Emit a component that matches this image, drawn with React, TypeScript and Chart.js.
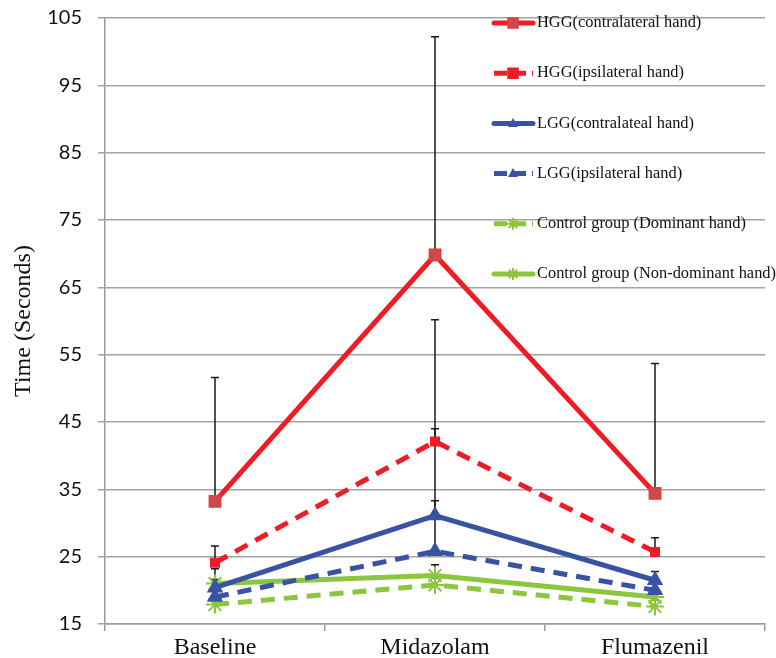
import React, { useEffect, useRef } from "react";
import { Chart, registerables } from "chart.js";

Chart.register(...registerables);

const categories = ["Baseline", "Midazolam", "Flumazenil"];
const yTicks = [15, 25, 35, 45, 55, 65, 75, 85, 95, 105];

const seriesLabels = [
  "HGG(contralateral hand)",
  "HGG(ipsilateral hand)",
  "LGG(contralateal hand)",
  "LGG(ipsilateral hand)",
  "Control group (Dominant hand)",
  "Control group (Non-dominant hand)",
];

const hggContra = [33.2, 69.8, 34.4];
const hggIpsi = [24.1, 42.1, 25.7];
const lggContra = [20.4, 31.1, 21.5];
const lggIpsi = [19.0, 25.8, 20.0];
const ctrlDom = [17.9, 20.8, 17.6];
const ctrlNonDom = [21.0, 22.2, 19.0];

const hggContraErr = [18.4, 32.4, 19.3];
const hggIpsiErr = [2.5, 18.1, 2.1];
const lggContraErr = [2.8, 12.9, 1.3];
const lggIpsiErr = [2.4, 7.5, 1.0];
const ctrlDomErr = [1.2, 1.0, 1.0];
const ctrlNonDomErr = [0.6, 1.6, 0.8];

const RED = "#ee1c25";
const BLUE = "#3953a4";
const GREEN = "#8cc63e";

const errorBarPlugin = {
  id: "errorBars",
  beforeDatasetsDraw(chart: any) {
    const { ctx } = chart;
    const yScale = chart.scales.y;
    ctx.save();
    ctx.strokeStyle = "#1a1a1a";
    ctx.lineWidth = 1.5;
    chart.data.datasets.forEach((ds: any, di: number) => {
      const meta = chart.getDatasetMeta(di);
      (ds.errors || []).forEach((e: number, i: number) => {
        const pt = meta.data[i];
        if (!pt) return;
        const x = pt.x;
        const y0 = yScale.getPixelForValue(ds.data[i]);
        const y1 = yScale.getPixelForValue(ds.data[i] + e);
        ctx.beginPath();
        ctx.moveTo(x, y0);
        ctx.lineTo(x, y1);
        ctx.moveTo(x - 4, y1);
        ctx.lineTo(x + 4, y1);
        ctx.stroke();
      });
    });
    ctx.restore();
  },
};

function drawMarker(ctx: CanvasRenderingContext2D, style: string, x: number, y: number, r: number, fill: string, stroke: string) {
  ctx.save();
  ctx.fillStyle = fill;
  ctx.strokeStyle = stroke;
  ctx.lineWidth = 1.5;
  ctx.beginPath();
  if (style === "rect") {
    ctx.rect(x - r, y - r, 2 * r, 2 * r);
    ctx.fill();
    ctx.stroke();
  } else if (style === "triangle") {
    ctx.moveTo(x, y - r * 1.1);
    ctx.lineTo(x + r, y + r * 0.7);
    ctx.lineTo(x - r, y + r * 0.7);
    ctx.closePath();
    ctx.fill();
  } else {
    ctx.lineWidth = 2;
    for (let k = 0; k < 4; k++) {
      const a = (k * Math.PI) / 4;
      ctx.moveTo(x - Math.cos(a) * r, y - Math.sin(a) * r);
      ctx.lineTo(x + Math.cos(a) * r, y + Math.sin(a) * r);
    }
    ctx.stroke();
  }
  ctx.restore();
}

const legendPlugin = {
  id: "insideLegend",
  afterDraw(chart: any) {
    const { ctx, chartArea } = chart;
    const x0 = chartArea.left + 387;
    const y0 = chartArea.top + 5;
    ctx.save();
    chart.data.datasets.forEach((ds: any, i: number) => {
      const y = y0 + i * 50.2;
      ctx.save();
      ctx.strokeStyle = ds.borderColor;
      ctx.lineWidth = 5;
      if (ds.borderDash && ds.borderDash.length) {
        ctx.lineCap = "butt";
        ctx.setLineDash([13, 6]);
      } else {
        ctx.lineCap = "round";
      }
      ctx.beginPath();
      ctx.moveTo(x0 + 2, y);
      ctx.lineTo(x0 + 41, y);
      ctx.stroke();
      ctx.restore();
      drawMarker(ctx, ds.pointStyle, x0 + 21, y, ds.pointStyle === "star" ? 6 : 5, ds.pointBackgroundColor, ds.pointBorderColor);
      ctx.fillStyle = "#111";
      ctx.font = "16.4px 'Liberation Serif', 'Times New Roman', serif";
      ctx.textBaseline = "middle";
      ctx.textAlign = "left";
      ctx.fillText(ds.label, x0 + 45, y);
    });
    ctx.restore();
  },
};

export default function App() {
  const canvasRef = useRef<HTMLCanvasElement | null>(null);

  useEffect(() => {
    if (!canvasRef.current) return;
    const mk = (
      label: string,
      data: number[],
      errors: number[],
      color: string,
      dashed: boolean,
      pointStyle: string,
      radius: number,
      fill: string,
      border: string
    ) => ({
      label,
      data,
      errors,
      borderColor: color,
      backgroundColor: color,
      borderWidth: 5,
      borderDash: dashed ? [14, 9] : [],
      pointStyle,
      pointRadius: radius,
      pointBackgroundColor: fill,
      pointBorderColor: border,
      pointBorderWidth: pointStyle === "star" ? 2 : 1.5,
      tension: 0,
      fill: false,
    });

    const chart = new Chart(canvasRef.current, {
      type: "line",
      data: {
        labels: categories,
        datasets: [
          mk(seriesLabels[0], hggContra, hggContraErr, RED, false, "rect", 8, "#c94c4c", "#e8393b"),
          mk(seriesLabels[1], hggIpsi, hggIpsiErr, RED, true, "rect", 6, RED, RED),
          mk(seriesLabels[2], lggContra, lggContraErr, BLUE, false, "triangle", 8, BLUE, BLUE),
          mk(seriesLabels[3], lggIpsi, lggIpsiErr, BLUE, true, "triangle", 8, BLUE, BLUE),
          mk(seriesLabels[4], ctrlDom, ctrlDomErr, GREEN, true, "star", 9, GREEN, GREEN),
          mk(seriesLabels[5], ctrlNonDom, ctrlNonDomErr, GREEN, false, "star", 9, GREEN, GREEN),
        ] as any,
      },
      options: {
        animation: false,
        responsive: false,
        maintainAspectRatio: false,
        layout: { padding: { top: 18, right: 11, left: 0, bottom: 0 } },
        plugins: {
          legend: { display: false },
          tooltip: { enabled: false },
        },
        scales: {
          x: {
            offset: true,
            grid: {
              offset: true,
              drawOnChartArea: false,
              drawTicks: true,
              tickLength: 7,
              color: "#9a9a9a",
              lineWidth: 1.5,
            },
            border: { color: "#9a9a9a", width: 1.5 },
            ticks: {
              color: "#111",
              padding: 2,
              font: { family: "'Liberation Serif', 'Times New Roman', serif", size: 24 },
            },
            afterFit: (s: any) => {
              s.height = 34;
              s.paddingLeft = 0;
              s.paddingRight = 0;
            },
          },
          y: {
            min: 15,
            max: 105,
            afterBuildTicks: (s: any) => {
              s.ticks = yTicks.map((v) => ({ value: v }));
            },
            grid: {
              color: "#a3a3a3",
              lineWidth: 1.5,
              tickLength: 7,
            },
            border: { color: "#9a9a9a", width: 1.5 },
            ticks: {
              color: "#111",
              padding: 16,
              font: { family: "Lato, 'Open Sans', sans-serif", size: 20 },
            },
            title: {
              display: true,
              text: "Time (Seconds)",
              color: "#111",
              padding: { top: 9, bottom: 0 },
              font: { family: "'Liberation Serif', 'Times New Roman', serif", size: 24, weight: "normal" },
            },
            afterFit: (s: any) => {
              s.width = 105;
              s.paddingTop = 0;
              s.paddingBottom = 0;
            },
          },
        },
      },
      plugins: [errorBarPlugin, legendPlugin],
    } as any);
    return () => chart.destroy();
  }, []);

  return (
    <div style={{ position: "absolute", left: 0, top: 0, width: 776, height: 658, background: "#fff" }}>
      <canvas ref={canvasRef} width={776} height={658} style={{ display: "block", width: 776, height: 658 }} />
    </div>
  );
}
